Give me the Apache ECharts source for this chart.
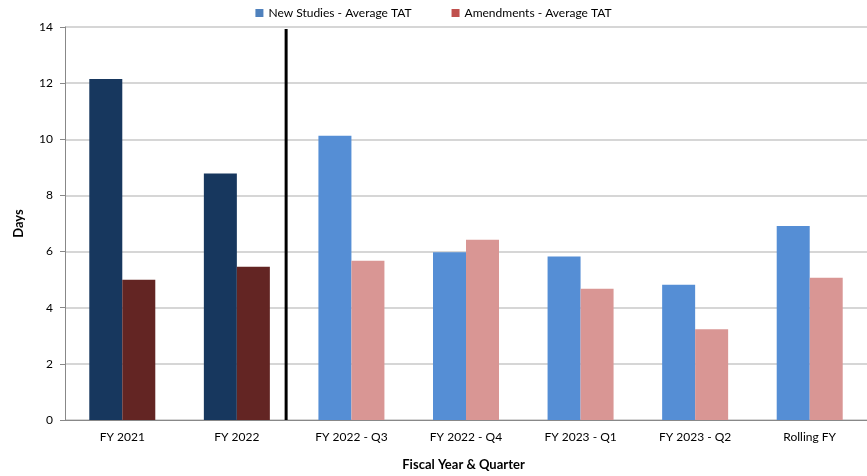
<!DOCTYPE html>
<html><head><meta charset="utf-8">
<script src="https://cdn.jsdelivr.net/npm/echarts@6/dist/echarts.min.js"></script>
<style>html,body{margin:0;padding:0;background:#fff}#c{width:867px;height:476px}</style>
</head><body><div id="c"></div>
<script>
const categories = ['FY 2021','FY 2022','FY 2022 - Q3','FY 2022 - Q4','FY 2023 - Q1','FY 2023 - Q2','Rolling FY'];
const newStudies = [12.15, 8.78, 10.13, 5.98, 5.82, 4.82, 6.91];
const amendments = [5.0, 5.46, 5.67, 6.42, 4.68, 3.23, 5.07];
const yTicks = [0, 2, 4, 6, 8, 10, 12, 14];
const dividerPos = 1.93;

const FONT = 'Lato';
const darkCount = 2;
function colored(vals, dark, light) {
  return vals.map((v, i) => ({ value: v, itemStyle: { color: i < darkCount ? dark : light } }));
}
const chart = echarts.init(document.getElementById('c'));
chart.setOption({
  animation: false,
  textStyle: { fontFamily: FONT },
  legend: {
    top: 2, left: 'center', itemWidth: 8, itemHeight: 8, itemGap: 40,
    icon: 'rect',
    textStyle: { fontFamily: FONT, fontSize: 12, color: '#000' },
    data: [
      { name: 'New Studies - Average TAT', itemStyle: { color: '#4F81BD' } },
      { name: 'Amendments - Average TAT', itemStyle: { color: '#C0504D' } }
    ]
  },
  grid: { left: 65, right: -9, top: 27, bottom: 54, containLabel: false },
  xAxis: [{
    type: 'category', data: categories,
    axisLine: { lineStyle: { color: '#888', width: 1 } },
    axisTick: { show: false },
    axisLabel: { color: '#000', fontSize: 12, fontFamily: FONT, margin: 11 },
    name: 'Fiscal Year & Quarter', nameLocation: 'middle', nameGap: 38,
    nameTextStyle: { fontWeight: 'bold', fontSize: 13, color: '#000', fontFamily: FONT, padding: [0, 0, 0, -5] }
  }, {
    type: 'value', min: 0, max: 7, show: false
  }],
  yAxis: {
    type: 'value', min: 0, max: 14, interval: 2,
    axisLine: { show: true, lineStyle: { color: '#888' } },
    axisTick: { show: true, length: 5, lineStyle: { color: '#888' } },
    axisLabel: { color: '#000', fontSize: 12, fontFamily: FONT, margin: 12,
      formatter: v => yTicks.includes(v) ? String(v) : '' },
    splitLine: { lineStyle: { color: '#C8C8C8', width: 1.5 } },
    name: 'Days', nameLocation: 'middle', nameGap: 40, nameRotate: 90,
    nameTextStyle: { fontWeight: 'bold', fontSize: 13, color: '#000', fontFamily: FONT }
  },
  series: [{
    name: 'New Studies - Average TAT', type: 'bar', barWidth: 33, barGap: '0%',
    itemStyle: { color: '#4F81BD' },
    data: colored(newStudies, '#17375E', '#558ED5')
  }, {
    name: 'Amendments - Average TAT', type: 'bar', barWidth: 33, barGap: '0%',
    itemStyle: { color: '#C0504D' },
    data: colored(amendments, '#632523', '#D99694')
  }, {
    name: 'divider', type: 'line', xAxisIndex: 1, symbol: 'none', silent: true,
    lineStyle: { color: '#000', width: 3 },
    data: [[dividerPos, 0], [dividerPos, 13.93]]
  }]
});
</script></body></html>
